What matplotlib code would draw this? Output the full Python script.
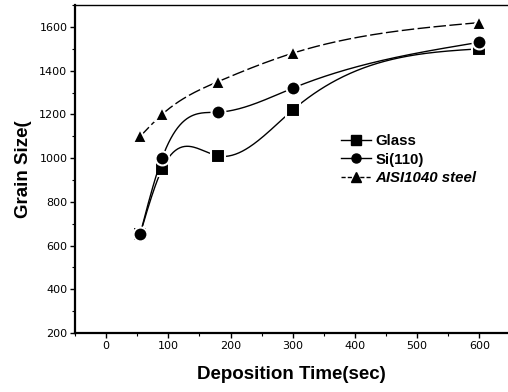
import numpy as np
import matplotlib
matplotlib.use("Agg")
import matplotlib.pyplot as plt
from matplotlib.ticker import MultipleLocator

time_glass = [55, 90, 180, 300, 600]
glass = [655, 950, 1010, 1220, 1500]
time_si = [55, 90, 180, 300, 600]
si = [655, 1000, 1210, 1320, 1530]
time_steel = [55, 90, 180, 300, 600]
steel = [1100, 1200, 1350, 1480, 1620]

labels = ["Glass", "Si(110)", "AISI1040 steel"]


def natural_spline(x, y, n=300):
    x = np.asarray(x, float)
    y = np.asarray(y, float)
    m = len(x)
    h = np.diff(x)
    A = np.zeros((m, m))
    b = np.zeros(m)
    A[0, 0] = 1
    A[-1, -1] = 1
    for i in range(1, m - 1):
        A[i, i - 1] = h[i - 1]
        A[i, i] = 2 * (h[i - 1] + h[i])
        A[i, i + 1] = h[i]
        b[i] = 6 * ((y[i + 1] - y[i]) / h[i] - (y[i] - y[i - 1]) / h[i - 1])
    M = np.linalg.solve(A, b)
    xs = np.linspace(x[0], x[-1], n)
    ys = np.empty_like(xs)
    for k, xv in enumerate(xs):
        i = min(np.searchsorted(x, xv) - 1, m - 2)
        i = max(i, 0)
        t1 = x[i + 1] - xv
        t0 = xv - x[i]
        ys[k] = (M[i] * t1 ** 3 + M[i + 1] * t0 ** 3) / (6 * h[i]) \
            + (y[i] / h[i] - M[i] * h[i] / 6) * t1 \
            + (y[i + 1] / h[i] - M[i + 1] * h[i] / 6) * t0
    return xs, ys


fig = plt.figure(figsize=(5.08, 3.92), dpi=100)
ax = fig.add_axes([0.1476, 0.1505, 0.8524, 0.8365])

series = [
    (time_glass, glass, "s", "-", labels[0], 9.5),
    (time_si, si, "o", "-", labels[1], 10),
    (time_steel, steel, "^", (0, (9, 2.5)), labels[2], 10.5),
]
handles = []
for xv, yv, mk, ls, lab, ms in series:
    xs, ys = natural_spline(xv, yv)
    ax.plot(xs, ys, color="black", lw=1.0, ls=ls)
    ax.plot(xv, yv, ls="none", marker=mk, ms=ms, color="black",
            mec="white", mew=1.5)
    h, = ax.plot([], [], color="black", lw=1.0,
                 ls=ls if mk != "^" else (0, (3, 1.5)), marker=mk, ms=6.5)
    handles.append(h)

ax.set_xlim(-50, 646)
ax.set_ylim(200, 1700)
ax.xaxis.set_major_locator(MultipleLocator(100))
ax.xaxis.set_minor_locator(MultipleLocator(50))
ax.yaxis.set_major_locator(MultipleLocator(200))
ax.yaxis.set_minor_locator(MultipleLocator(100))

ax.spines["right"].set_visible(False)
ax.spines["left"].set_linewidth(1.6)
ax.spines["bottom"].set_linewidth(1.6)
ax.spines["top"].set_linewidth(1.0)
ax.tick_params(axis="both", which="major", direction="out", length=3.5,
               width=1.0, labelsize=8, pad=2)
ax.tick_params(axis="both", which="minor", direction="out", length=2,
               width=0.8)
for t in ax.get_xticklabels() + ax.get_yticklabels():
    t.set_fontfamily("DejaVu Sans")

ax.set_xlabel("Deposition Time(sec)", fontsize=13.5, fontweight="bold",
              family="Liberation Sans", labelpad=11)
ax.set_ylabel("Grain Size(", fontsize=13.5, fontweight="bold",
              family="Liberation Sans", labelpad=5)

leg = ax.legend(handles, labels, loc="upper left",
                bbox_to_anchor=(0.60, 0.625), frameon=False,
                prop={"family": "Liberation Sans", "weight": "bold", "size": 10.8},
                handlelength=2.0, handletextpad=0.3, labelspacing=0.3,
                borderaxespad=0)
leg.get_texts()[2].set_fontstyle("italic")

fig.savefig("out.png", dpi=100)
